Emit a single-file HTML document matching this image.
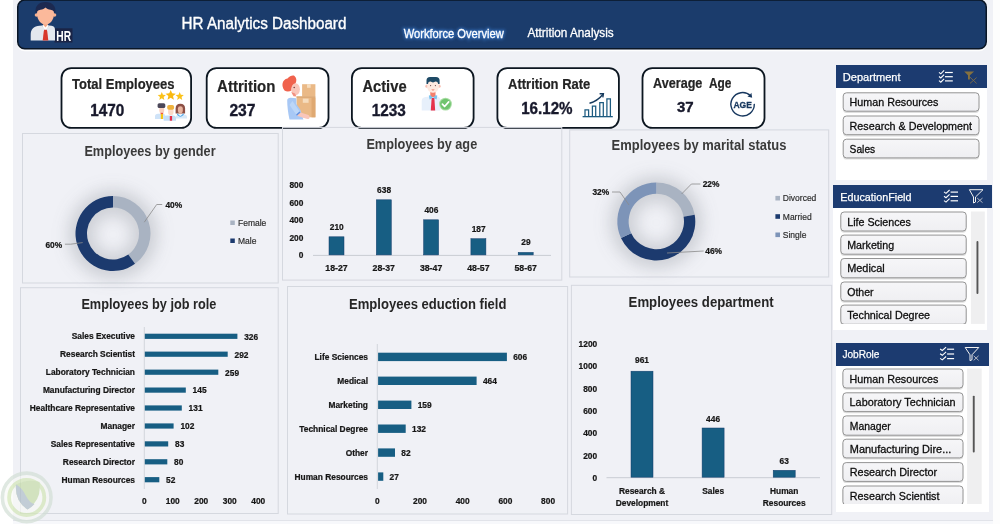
<!DOCTYPE html>
<html>
<head>
<meta charset="utf-8">
<title>HR Analytics Dashboard</title>
<style>
*{box-sizing:border-box;margin:0;padding:0}
html,body{width:1000px;height:524px;overflow:hidden;background:#f0f1f6;font-family:"Liberation Sans",sans-serif;color:#1a1a1a}
#root{position:relative;width:1000px;height:524px;overflow:hidden;background:#f0f1f6}
.abs{position:absolute}
.leftstrip{left:0;top:0;width:13px;height:524px;background:#fff}
.rightstrip{left:992.5px;top:0;width:8px;height:524px;background:#fdfdfd}
.slh{background:#1c3b70;color:#fff;font-size:11px;padding-left:7px;white-space:nowrap}
.slb{background:#fff}
svg{position:absolute;left:0;top:0;overflow:visible;will-change:transform}
.slh{will-change:transform}
svg text{font-family:"Liberation Sans",sans-serif}
</style>
</head>
<body>
<div id="root">
<div class="abs leftstrip"></div>
<div class="abs rightstrip"></div>
<div class="abs" style="left:13px;top:519.5px;width:980px;height:5px;background:#f7f8fb;border-top:1px solid #e1e3e9"></div>

<!-- HEADER -->

<!-- KPI CARDS -->


<!-- PANELS -->

<!-- SLICERS -->
<div class="abs slb" style="left:836px;top:87px;width:151px;height:93px"></div>
<div class="abs slh" style="left:836px;top:65px;width:151px;height:23px;line-height:23px"></div>

<div class="abs slb" style="left:833.3px;top:207px;width:153.7px;height:122.5px"></div>
<div class="abs slh" style="left:833px;top:185px;width:159px;height:23px;line-height:23px"></div>

<div class="abs slb" style="left:836px;top:365px;width:153px;height:147px"></div>
<div class="abs slh" style="left:836px;top:343px;width:153px;height:23px;line-height:23px"></div>

<svg width="1000" height="524" viewBox="0 0 1000 524">
<defs><filter id="sh" x="-50%" y="-50%" width="200%" height="200%"><feGaussianBlur stdDeviation="8"/></filter><filter id="glow" x="-20%" y="-60%" width="140%" height="220%"><feGaussianBlur stdDeviation="1.6"/></filter></defs>
<rect x="61.5" y="68.1" width="129.6" height="59.8" rx="9.8" fill="#fff" stroke="#0c1620" stroke-width="1.8"/>
<rect x="206.70000000000002" y="68.1" width="121.79999999999997" height="59.8" rx="9.8" fill="#fff" stroke="#0c1620" stroke-width="1.8"/>
<rect x="351.9" y="68.1" width="121.7" height="59.8" rx="9.8" fill="#fff" stroke="#0c1620" stroke-width="1.8"/>
<rect x="497.4" y="68.1" width="121.49999999999996" height="59.8" rx="9.8" fill="#fff" stroke="#0c1620" stroke-width="1.8"/>
<rect x="642.5" y="68.1" width="121.99999999999996" height="59.8" rx="9.8" fill="#fff" stroke="#0c1620" stroke-width="1.8"/>
<rect x="22.5" y="133.5" width="255.7" height="149.5" fill="none" stroke="#d5d8df" stroke-width="1"/>
<rect x="282.5" y="127.4" width="279.29999999999995" height="152.70000000000002" fill="none" stroke="#d5d8df" stroke-width="1"/>
<rect x="569.7" y="129.9" width="259.0" height="147.1" fill="none" stroke="#d5d8df" stroke-width="1"/>
<rect x="20.5" y="287.7" width="257.7" height="225.8" fill="none" stroke="#d5d8df" stroke-width="1"/>
<rect x="287.5" y="286.5" width="280.1" height="227.5" fill="none" stroke="#d5d8df" stroke-width="1"/>
<rect x="571.4" y="285.3" width="260.30000000000007" height="229.2" fill="none" stroke="#d5d8df" stroke-width="1"/>
<rect x="17.75" y="1.7" width="968.5" height="48.7" rx="7" fill="none" stroke="#ffffff" stroke-width="1.6" opacity="0.9"/>
<rect x="17.75" y="0.05" width="968.5" height="48.7" rx="7" fill="#1b3c6c" stroke="#0a1626" stroke-width="1.5"/>
<text x="181.6" y="29" font-size="16" text-anchor="start" font-weight="normal" fill="#ffffff" textLength="164.8" lengthAdjust="spacingAndGlyphs" stroke="#fff" stroke-width="0.35">HR Analytics Dashboard</text>
<text x="403.75" y="38" font-size="12.4" text-anchor="start" font-weight="normal" fill="#3f86e0" textLength="100" lengthAdjust="spacingAndGlyphs" filter="url(#glow)" stroke="#3f86e0" stroke-width="2.5" opacity="0.62">Workforce Overview</text>
<text x="403.75" y="38" font-size="12.4" text-anchor="start" font-weight="normal" fill="#ffffff" textLength="100" lengthAdjust="spacingAndGlyphs" stroke="#fff" stroke-width="0.3">Workforce Overview</text>
<text x="527.5" y="37" font-size="12.6" text-anchor="start" font-weight="normal" fill="#ffffff" textLength="86.25" lengthAdjust="spacingAndGlyphs" stroke="#fff" stroke-width="0.3">Attrition Analysis</text>
<g>
<rect x="54.5" y="28.3" width="18" height="14.2" fill="#1a2446"/>
<circle cx="36.5" cy="15" r="1.8" fill="#f7b08f"/><circle cx="54.5" cy="15" r="1.8" fill="#f7b08f"/>
<rect x="43.2" y="21" width="4.6" height="9.5" fill="#f5a885"/>
<path d="M37,13.5 C37,20 41,24.6 45.5,24.6 C50,24.6 54,20 54,13.5 C54,9 50,6.8 45.5,6.8 C41,6.8 37,9 37,13.5 Z" fill="#fbb99b"/>
<path d="M35.7,13.6 C34.4,6.4 38.5,1.9 45.5,1.9 C52.5,1.9 56.6,6.4 55.3,13.6 C54.7,11.4 53,10.1 50.5,9.7 C48.5,9.3 46.5,8.7 45.5,7.4 C44.5,8.7 42.5,9.3 40.5,9.7 C38,10.1 36.3,11.4 35.7,13.6 Z" fill="#1c2950"/>
<path d="M30.7,40.4 V35 C30.7,29 34,26.3 39.5,25.8 L42,25.6 L45.5,29.5 L49,25.6 L51.5,25.8 C54,26 55,27.5 55,30 V40.4 Z" fill="#e4e8ee"/>
<path d="M42,25.6 L45.5,30.5 L49,25.6 L47.5,25 L45.5,27.5 L43.5,25 Z" fill="#ffffff"/>
<path d="M44.2,29.8 H46.8 L47.3,31.8 L48.3,40.4 H42.7 L43.7,31.8 Z" fill="#d8382c"/>
<text x="56.3" y="41" font-size="14.6" text-anchor="start" font-weight="bold" fill="#ffffff" textLength="14.8" lengthAdjust="spacingAndGlyphs" >HR</text>
</g>
<text x="72.1" y="88.6" font-size="13.8" text-anchor="start" font-weight="bold" fill="#242424" textLength="102.5" lengthAdjust="spacingAndGlyphs" stroke="#242424" stroke-width="0.2">Total Employees</text>
<text x="90.2" y="116.3" font-size="15.8" text-anchor="start" font-weight="bold" fill="#17182b" textLength="34.1" lengthAdjust="spacingAndGlyphs" stroke="#17182b" stroke-width="0.35">1470</text>
<text x="217.1" y="91.5" font-size="16.2" text-anchor="start" font-weight="bold" fill="#242424" textLength="58.3" lengthAdjust="spacingAndGlyphs" stroke="#242424" stroke-width="0.2">Attrition</text>
<text x="229.4" y="115.8" font-size="15.8" text-anchor="start" font-weight="bold" fill="#17182b" textLength="26.1" lengthAdjust="spacingAndGlyphs" stroke="#17182b" stroke-width="0.35">237</text>
<text x="362.4" y="91.5" font-size="16.2" text-anchor="start" font-weight="bold" fill="#242424" textLength="44.2" lengthAdjust="spacingAndGlyphs" stroke="#242424" stroke-width="0.2">Active</text>
<text x="371.8" y="115.8" font-size="15.8" text-anchor="start" font-weight="bold" fill="#17182b" textLength="34.1" lengthAdjust="spacingAndGlyphs" stroke="#17182b" stroke-width="0.35">1233</text>
<text x="508.1" y="88.6" font-size="13.8" text-anchor="start" font-weight="bold" fill="#242424" textLength="82.2" lengthAdjust="spacingAndGlyphs" stroke="#242424" stroke-width="0.2">Attrition Rate</text>
<text x="521.2" y="113.6" font-size="15.6" text-anchor="start" font-weight="bold" fill="#17182b" textLength="51.4" lengthAdjust="spacingAndGlyphs" stroke="#17182b" stroke-width="0.35">16.12%</text>
<text x="653.1" y="88.3" font-size="13.8" text-anchor="start" font-weight="bold" fill="#242424" textLength="49.3" lengthAdjust="spacingAndGlyphs" stroke="#242424" stroke-width="0.2">Average</text>
<text x="709" y="88.3" font-size="13.8" text-anchor="start" font-weight="bold" fill="#242424" textLength="22.4" lengthAdjust="spacingAndGlyphs" stroke="#242424" stroke-width="0.2">Age</text>
<text x="677" y="111.8" font-size="15.4" text-anchor="start" font-weight="bold" fill="#17182b" textLength="16.7" lengthAdjust="spacingAndGlyphs" stroke="#17182b" stroke-width="0.35">37</text>
<g>
<polygon points="161.80,92.10 162.94,94.83 165.89,95.07 163.64,97.00 164.33,99.88 161.80,98.34 159.27,99.88 159.96,97.00 157.71,95.07 160.66,94.83" fill="#fbc219"/>
<polygon points="179.70,92.10 180.84,94.83 183.79,95.07 181.54,97.00 182.23,99.88 179.70,98.34 177.17,99.88 177.86,97.00 175.61,95.07 178.56,94.83" fill="#fbc219"/>
<polygon points="170.70,89.90 172.13,93.33 175.84,93.63 173.01,96.05 173.87,99.67 170.70,97.73 167.53,99.67 168.39,96.05 165.56,93.63 169.27,93.33" fill="#f9b90f"/>
<path d="M155,119 V116.5 Q155,114 158,113.8 H163 Q165.6,114 165.6,116.5 V119 Z" fill="#cfe3f8"/>
<rect x="159.3" y="106.5" width="4.9" height="6.9" rx="2.3" fill="#f9d0bf"/>
<rect x="157.6" y="103.2" width="7.7" height="4.9" rx="1.6" fill="#4b4759"/>
<rect x="160.6" y="112.8" width="2.6" height="1.4" fill="#f2593c"/>
<rect x="160.8" y="114" width="2.2" height="5" fill="#f6c415"/>
<path d="M176,118.6 V117 Q176,114.8 179,114.6 H184 Q187,114.8 187,117 V118.6 Z" fill="#d9eaf9"/>
<path d="M175.6,113.6 V108.5 Q175.6,103.8 180.3,103.8 Q185.1,103.8 185.1,108.5 V113.6 Z" fill="#8c4f44"/>
<rect x="177.9" y="106.2" width="4.9" height="7.2" rx="2.4" fill="#e9b5a0"/>
<path d="M177.2,113.2 L180.4,116.4 L183.6,113.2 L183.6,115 L180.4,117 L177.2,115 Z" fill="#3fa0e8"/>
<path d="M163.7,120.7 V118 Q163.7,115.6 167,115.4 H173 Q176,115.6 176,118 V120.7 Z" fill="#c5dff6"/>
<rect x="168.1" y="108" width="5.4" height="7" rx="2.6" fill="#fbd9c9"/>
<rect x="167.2" y="104.9" width="6.9" height="4.9" rx="1.8" fill="#efb23e"/>
<rect x="169.8" y="116" width="2.3" height="4.7" fill="#e5304b"/>
</g>
<g>
<rect x="302.1" y="84.2" width="13.3" height="12.3" fill="#eab986"/>
<rect x="307" y="84.2" width="3.7" height="3.6" fill="#f6dcbd"/>
<rect x="296.5" y="97.5" width="18.9" height="19.8" fill="#eab986"/>
<rect x="296.5" y="96.3" width="18.9" height="1.5" fill="#d9a066"/>
<rect x="311.5" y="97.8" width="3.9" height="19.5" fill="#dfa972"/>
<rect x="302.8" y="98.6" width="5.8" height="4.2" fill="#f6dcbd"/>
<path d="M284.5,90.5 C281,86 282,79.5 287.5,78.5 C289.5,76 293,75 294.5,76 C296.5,77.5 297,80.5 295.5,83.5 C293,84.5 291.5,87 291.5,90.5 C289.5,91.8 286.5,92 284.5,90.5 Z" fill="#f0624d"/>
<ellipse cx="295.6" cy="89.2" rx="4.3" ry="6" fill="#f9c6ba"/>
<path d="M291.2,92 L293.5,96.2 L296.5,96.5 L295,93.5 Z" fill="#f28f7f"/>
<circle cx="294.2" cy="87.6" r="0.75" fill="#6b3a3a"/>
<path d="M287.2,100.5 C287.2,98.5 289,97.6 291,97.8 L296.3,98.2 V104 L300.5,110 L303.4,119.4 H289.5 C288,113 287.2,106 287.2,100.5 Z" fill="#a8c8f5"/>
<path d="M292.5,101 L299.6,111.6 L296.2,114.6 L289.5,105 Z" fill="#bcd6f8"/>
<path d="M296.2,114.6 L299.6,111.6 L300.6,112.9 L297,116 Z" fill="#5f8fe0"/>
<path d="M297,115.8 L300.6,112.6 L308.5,115 Q310.3,116.5 309.3,118.4 Q308,119.4 305.5,118.6 Z" fill="#f9c6ba"/>
</g>
<g>
<path d="M421.7,110.5 V101 Q421.7,97.4 425.5,97 L429.5,96.5 H436.5 L438.5,97 Q440.3,97.6 440.3,100 V110.5 Z" fill="#e7f0fb"/>
<rect x="430.3" y="91" width="5.2" height="6" fill="#f3806d"/>
<path d="M428.8,95.6 L430.4,95.2 L433,98 L435.5,95.2 L437.3,95.6 L436.6,99.4 L433,98 L429.6,99.4 Z" fill="#7cc4ee"/>
<path d="M431.9,98 H434.2 L434.5,99.8 L435.2,110.5 H430.8 L431.5,99.8 Z" fill="#e5334b"/>
<circle cx="426.9" cy="86.2" r="1.6" fill="#f9c1b4"/><circle cx="439.1" cy="86.2" r="1.6" fill="#f9c1b4"/>
<rect x="427.2" y="79.5" width="11.6" height="13.2" rx="5.4" fill="#fdeae1"/>
<path d="M426.5,84 V80.5 Q426.5,77 430,77 H436 Q439.6,77 439.6,80.5 V84 L438.2,84 Q437.8,81.4 435.5,81.6 L433,82.6 L430.5,81.6 Q428.2,81.4 427.9,84 Z" fill="#1e4a66"/>
<path d="M431.3,89.6 Q433,91.3 434.7,89.6 Z" fill="#ef6a57"/>
<circle cx="430.6" cy="85.6" r="0.6" fill="#6b4a4a"/><circle cx="435.4" cy="85.6" r="0.6" fill="#6b4a4a"/>
<circle cx="445.5" cy="104.1" r="6.4" fill="#a9dda4"/>
<circle cx="445.5" cy="104.1" r="5.4" fill="#6fc46e"/>
<polyline points="442.4,104.2 444.6,106.5 448.7,101.9" fill="none" stroke="#ffffff" stroke-width="1.7" stroke-linecap="round" stroke-linejoin="round"/>
</g>
<g fill="none" stroke="#1d5b80" stroke-width="1.25">
<line x1="582.6" y1="116.65" x2="612.8" y2="116.65" stroke-width="1.3"/>
<path d="M585.0,116.6 V109.9 H588.6 V116.6"/>
<path d="M592.4,116.6 V106.2 H595.7 V116.6"/>
<path d="M599.8,116.6 V102.7 H603.3 V116.6"/>
<path d="M606.9,116.6 V98.8 H610.4 V116.6"/>
<path d="M589.5,103.2 Q597.5,101.2 603.2,94" stroke="#173b5e" stroke-width="1.4"/>
<path d="M599.6,93.7 L603.4,93.7 L602.8,97.4" stroke="#173b5e" stroke-width="1.4"/>
</g>
<path d="M754.29,103.89 A11.7,11.7 0 1 1 750.73,95.88" fill="none" stroke="#17375e" stroke-width="1.4"/>
<path d="M747.36,96.58 L752.16,97.68 L751.36,92.78 Q750.36,95.18 747.36,96.58 Z" fill="#17375e"/>
<text x="733.4" y="107.7" font-size="9.4" text-anchor="start" font-weight="bold" fill="#17375e" textLength="18.5" lengthAdjust="spacingAndGlyphs" stroke="#17375e" stroke-width="0.3">AGE</text>
<text x="842.75" y="80.7" font-size="11.3" text-anchor="start" font-weight="normal" fill="#fff" textLength="57.8" lengthAdjust="spacingAndGlyphs" stroke="#fff" stroke-width="0.25">Department</text>
<text x="840.3" y="200.6" font-size="11.3" text-anchor="start" font-weight="normal" fill="#fff" textLength="71.2" lengthAdjust="spacingAndGlyphs" stroke="#fff" stroke-width="0.25">EducationField</text>
<text x="842.4" y="357.9" font-size="11.3" text-anchor="start" font-weight="normal" fill="#fff" textLength="37.1" lengthAdjust="spacingAndGlyphs" stroke="#fff" stroke-width="0.25">JobRole</text>
<g fill="none" stroke="#fff" stroke-width="1.1"><polyline points="939.0,72.3 940.8,73.8 944.1,70.4"/><line x1="945" y1="72.5" x2="952.8" y2="72.5" stroke-width="1.2"/><polyline points="939.0,76.5 940.8,78.0 944.1,74.6"/><line x1="945" y1="76.7" x2="952.8" y2="76.7" stroke-width="1.2"/><polyline points="939.0,80.7 940.8,82.2 944.1,78.8"/><line x1="945" y1="80.9" x2="952.8" y2="80.9" stroke-width="1.2"/></g>
<g fill="none" stroke="#fff" stroke-width="1.1"><polyline points="944.0,191.9 946.0,193.4 949.6,190.0"/><line x1="950.6" y1="192.1" x2="958" y2="192.1" stroke-width="1.2"/><polyline points="944.0,196.2 946.0,197.7 949.6,194.3"/><line x1="950.6" y1="196.4" x2="958" y2="196.4" stroke-width="1.2"/><polyline points="944.0,200.6 946.0,202.1 949.6,198.7"/><line x1="950.6" y1="200.8" x2="958" y2="200.8" stroke-width="1.2"/></g>
<g fill="none" stroke="#fff" stroke-width="1.1"><polyline points="940.1,349.0 942.3,350.5 946.1,347.1"/><line x1="947.1" y1="349.2" x2="954.1" y2="349.2" stroke-width="1.2"/><polyline points="940.1,353.8 942.3,355.3 946.1,351.9"/><line x1="947.1" y1="354" x2="954.1" y2="354" stroke-width="1.2"/><polyline points="940.1,358.4 942.3,359.9 946.1,356.5"/><line x1="947.1" y1="358.6" x2="954.1" y2="358.6" stroke-width="1.2"/></g>
<path d="M964.2,71.4 H974.1 L969.9,75.3 V79.4 L968,79.4 V75.3 Z" fill="#85713f"/>
<path d="M970,77.2 L976.6,83.4 M976.6,77.6 L970,83.4" stroke="#7d6c48" stroke-width="0.9" fill="none"/>
<path d="M969.4,189.7 H983 L975.5,197 V202 L973.5,203 V197 Z" fill="none" stroke="#f2f2f2" stroke-width="1" stroke-linejoin="round"/><path d="M977.2,198.1 L982.5,202.6 M982.5,198.1 L977.2,202.6" stroke="#b9bcc6" stroke-width="0.95" fill="none"/>
<path d="M965.2,347.5 H978.8 L972.0,354.8 V359.7 L970.0,360.7 V354.8 Z" fill="none" stroke="#f2f2f2" stroke-width="1" stroke-linejoin="round"/><path d="M973.7,355.8 L978.6,360.4 M978.6,355.8 L973.7,360.4" stroke="#b9bcc6" stroke-width="0.95" fill="none"/>
<defs><linearGradient id="ig" x1="0" y1="0" x2="0" y2="1"><stop offset="0" stop-color="#f6f6f8"/><stop offset="1" stop-color="#efeff2"/></linearGradient><clipPath id="c2"><rect x="833" y="208" width="160" height="115.9"/></clipPath><clipPath id="c3"><rect x="835" y="366" width="160" height="138"/></clipPath></defs>
<rect x="843.0" y="93.5" width="136.19999999999996" height="19.400000000000006" rx="3.6" fill="#000" opacity="0.13"/><rect x="843.2" y="92.8" width="135.79999999999995" height="18.400000000000006" rx="3.3" fill="url(#ig)" stroke="#8f8f8f" stroke-width="0.95"/><text x="849.6" y="105.9" font-size="11" text-anchor="start" font-weight="normal" fill="#0c0c0c" textLength="88.8" lengthAdjust="spacingAndGlyphs" stroke="#0c0c0c" stroke-width="0.28">Human Resources</text>
<rect x="843.0" y="116.7" width="136.19999999999996" height="19.69999999999999" rx="3.6" fill="#000" opacity="0.13"/><rect x="843.2" y="116.0" width="135.79999999999995" height="18.69999999999999" rx="3.3" fill="url(#ig)" stroke="#8f8f8f" stroke-width="0.95"/><text x="849.6" y="129.6" font-size="11" text-anchor="start" font-weight="normal" fill="#0c0c0c" textLength="122.4" lengthAdjust="spacingAndGlyphs" stroke="#0c0c0c" stroke-width="0.28">Research &amp; Development</text>
<rect x="843.0" y="139.89999999999998" width="136.19999999999996" height="19.700000000000017" rx="3.6" fill="#000" opacity="0.13"/><rect x="843.2" y="139.2" width="135.79999999999995" height="18.700000000000017" rx="3.3" fill="url(#ig)" stroke="#8f8f8f" stroke-width="0.95"/><text x="849.6" y="152.8" font-size="11" text-anchor="start" font-weight="normal" fill="#0c0c0c" textLength="25.6" lengthAdjust="spacingAndGlyphs" stroke="#0c0c0c" stroke-width="0.28">Sales</text>
<rect x="970.9" y="211.5" width="13.9" height="112.4" fill="#efeff0"/>
<rect x="976.5" y="241" width="1.9" height="53" rx="0.9" fill="#555"/>
<g clip-path="url(#c2)">
<rect x="840.5999999999999" y="212.7" width="125.8000000000001" height="20.0" rx="3.6" fill="#000" opacity="0.13"/><rect x="840.8" y="212.0" width="125.40000000000009" height="19.0" rx="3.3" fill="url(#ig)" stroke="#8f8f8f" stroke-width="0.95"/><text x="847.2" y="225.9" font-size="11" text-anchor="start" font-weight="normal" fill="#0c0c0c" textLength="63.7" lengthAdjust="spacingAndGlyphs" stroke="#0c0c0c" stroke-width="0.28">Life Sciences</text>
<rect x="840.5999999999999" y="235.79999999999998" width="125.8000000000001" height="20.099999999999994" rx="3.6" fill="#000" opacity="0.13"/><rect x="840.8" y="235.1" width="125.40000000000009" height="19.099999999999994" rx="3.3" fill="url(#ig)" stroke="#8f8f8f" stroke-width="0.95"/><text x="847.2" y="248.9" font-size="11" text-anchor="start" font-weight="normal" fill="#0c0c0c" textLength="46.9" lengthAdjust="spacingAndGlyphs" stroke="#0c0c0c" stroke-width="0.28">Marketing</text>
<rect x="840.5999999999999" y="259.2" width="125.8000000000001" height="20.30000000000001" rx="3.6" fill="#000" opacity="0.13"/><rect x="840.8" y="258.5" width="125.40000000000009" height="19.30000000000001" rx="3.3" fill="url(#ig)" stroke="#8f8f8f" stroke-width="0.95"/><text x="847.2" y="272.1" font-size="11" text-anchor="start" font-weight="normal" fill="#0c0c0c" textLength="37.6" lengthAdjust="spacingAndGlyphs" stroke="#0c0c0c" stroke-width="0.28">Medical</text>
<rect x="840.5999999999999" y="282.7" width="125.8000000000001" height="20.0" rx="3.6" fill="#000" opacity="0.13"/><rect x="840.8" y="282.0" width="125.40000000000009" height="19.0" rx="3.3" fill="url(#ig)" stroke="#8f8f8f" stroke-width="0.95"/><text x="847.2" y="295.6" font-size="11" text-anchor="start" font-weight="normal" fill="#0c0c0c" textLength="26.4" lengthAdjust="spacingAndGlyphs" stroke="#0c0c0c" stroke-width="0.28">Other</text>
<rect x="840.5999999999999" y="305.8" width="125.8000000000001" height="20.19999999999999" rx="3.6" fill="#000" opacity="0.13"/><rect x="840.8" y="305.1" width="125.40000000000009" height="19.19999999999999" rx="3.3" fill="url(#ig)" stroke="#8f8f8f" stroke-width="0.95"/><text x="847.2" y="318.8" font-size="11" text-anchor="start" font-weight="normal" fill="#0c0c0c" textLength="82.9" lengthAdjust="spacingAndGlyphs" stroke="#0c0c0c" stroke-width="0.28">Technical Degree</text>
</g>
<rect x="967.1" y="368.5" width="14.6" height="135.5" fill="#efeff0"/>
<rect x="972.8" y="395.7" width="1.9" height="56.7" rx="0.9" fill="#555"/>
<g clip-path="url(#c3)">
<rect x="842.6999999999999" y="369.7" width="120.50000000000003" height="20.0" rx="3.6" fill="#000" opacity="0.13"/><rect x="842.9" y="369.0" width="120.10000000000002" height="19.0" rx="3.3" fill="url(#ig)" stroke="#8f8f8f" stroke-width="0.95"/><text x="849.6" y="382.9" font-size="11" text-anchor="start" font-weight="normal" fill="#0c0c0c" textLength="88.8" lengthAdjust="spacingAndGlyphs" stroke="#0c0c0c" stroke-width="0.28">Human Resources</text>
<rect x="842.6999999999999" y="393.5" width="120.50000000000003" height="19.80000000000001" rx="3.6" fill="#000" opacity="0.13"/><rect x="842.9" y="392.8" width="120.10000000000002" height="18.80000000000001" rx="3.3" fill="url(#ig)" stroke="#8f8f8f" stroke-width="0.95"/><text x="849.6" y="405.9" font-size="11" text-anchor="start" font-weight="normal" fill="#0c0c0c" textLength="105.9" lengthAdjust="spacingAndGlyphs" stroke="#0c0c0c" stroke-width="0.28">Laboratory Technician</text>
<rect x="842.6999999999999" y="416.59999999999997" width="120.50000000000003" height="20.30000000000001" rx="3.6" fill="#000" opacity="0.13"/><rect x="842.9" y="415.9" width="120.10000000000002" height="19.30000000000001" rx="3.3" fill="url(#ig)" stroke="#8f8f8f" stroke-width="0.95"/><text x="849.8" y="429.6" font-size="11" text-anchor="start" font-weight="normal" fill="#0c0c0c" textLength="41" lengthAdjust="spacingAndGlyphs" stroke="#0c0c0c" stroke-width="0.28">Manager</text>
<rect x="842.6999999999999" y="439.9" width="120.50000000000003" height="19.69999999999999" rx="3.6" fill="#000" opacity="0.13"/><rect x="842.9" y="439.2" width="120.10000000000002" height="18.69999999999999" rx="3.3" fill="url(#ig)" stroke="#8f8f8f" stroke-width="0.95"/><text x="849.8" y="452.9" font-size="11" text-anchor="start" font-weight="normal" fill="#0c0c0c" textLength="101.5" lengthAdjust="spacingAndGlyphs" stroke="#0c0c0c" stroke-width="0.28">Manufacturing Dire...</text>
<rect x="842.6999999999999" y="463.3" width="120.50000000000003" height="19.799999999999955" rx="3.6" fill="#000" opacity="0.13"/><rect x="842.9" y="462.6" width="120.10000000000002" height="18.799999999999955" rx="3.3" fill="url(#ig)" stroke="#8f8f8f" stroke-width="0.95"/><text x="849.8" y="476.4" font-size="11" text-anchor="start" font-weight="normal" fill="#0c0c0c" textLength="87.3" lengthAdjust="spacingAndGlyphs" stroke="#0c0c0c" stroke-width="0.28">Research Director</text>
<rect x="842.6999999999999" y="486.7" width="120.50000000000003" height="20.0" rx="3.6" fill="#000" opacity="0.13"/><rect x="842.9" y="486.0" width="120.10000000000002" height="19.0" rx="3.3" fill="url(#ig)" stroke="#8f8f8f" stroke-width="0.95"/><text x="849.8" y="499.7" font-size="11" text-anchor="start" font-weight="normal" fill="#0c0c0c" textLength="89.7" lengthAdjust="spacingAndGlyphs" stroke="#0c0c0c" stroke-width="0.28">Research Scientist</text>
</g>
<text x="84.4" y="155.6" font-size="14.5" text-anchor="start" font-weight="bold" fill="#3a3a3a" textLength="131.2" lengthAdjust="spacingAndGlyphs" >Employees by gender</text>
<text x="366.4" y="148.6" font-size="14.5" text-anchor="start" font-weight="bold" fill="#3a3a3a" textLength="110.8" lengthAdjust="spacingAndGlyphs" >Employees by age</text>
<text x="611.6" y="150" font-size="14.5" text-anchor="start" font-weight="bold" fill="#3a3a3a" textLength="174.8" lengthAdjust="spacingAndGlyphs" >Employees by marital status</text>
<text x="81.4" y="308.6" font-size="14.5" text-anchor="start" font-weight="bold" fill="#262626" textLength="135" lengthAdjust="spacingAndGlyphs" >Employees by job role</text>
<text x="349" y="308.6" font-size="14.5" text-anchor="start" font-weight="bold" fill="#262626" textLength="157.4" lengthAdjust="spacingAndGlyphs" >Employees eduction field</text>
<text x="628.6" y="307" font-size="14.5" text-anchor="start" font-weight="bold" fill="#262626" textLength="145" lengthAdjust="spacingAndGlyphs" >Employees department</text>
<circle cx="113" cy="234.5" r="31.75" fill="none" stroke="#8a8f99" stroke-opacity="0.34" stroke-width="25.5" filter="url(#sh)"/>
<path d="M113.00,196.00 A37.5,37.5 0 0 1 135.04,263.84 L128.28,254.53 A26,26 0 0 0 113.00,207.50 Z" fill="#a9b3c2"/>
<path d="M135.04,263.84 A37.5,37.5 0 1 1 113.00,196.00 L113.00,207.50 A26,26 0 1 0 128.28,254.53 Z" fill="#1c3a6e"/>
<polyline points="162.2,204.5 156.7,204.5 144.3,222.2" fill="none" stroke="#8a8a8a" stroke-width="0.8"/>
<polyline points="64.9,244.2 70.7,244.2 82.7,242.6" fill="none" stroke="#8a8a8a" stroke-width="0.8"/>
<text x="165.4" y="208.3" font-size="8.5" text-anchor="start" font-weight="bold" fill="#161616" textLength="16.76" lengthAdjust="spacingAndGlyphs" stroke="#161616" stroke-width="0.22">40%</text>
<text x="45.4" y="248" font-size="8.5" text-anchor="start" font-weight="bold" fill="#161616" textLength="16.76" lengthAdjust="spacingAndGlyphs" stroke="#161616" stroke-width="0.22">60%</text>
<rect x="230.3" y="220.5" width="4.5" height="4.5" fill="#a9b3c2"/>
<text x="238" y="225.8" font-size="8.5" text-anchor="start" font-weight="normal" fill="#2c2c2c" textLength="28.34" lengthAdjust="spacingAndGlyphs" stroke="#2c2c2c" stroke-width="0.18">Female</text>
<rect x="230.3" y="238.5" width="4.5" height="4.5" fill="#1c3a6e"/>
<text x="238" y="243.8" font-size="8.5" text-anchor="start" font-weight="normal" fill="#2c2c2c" textLength="18.42" lengthAdjust="spacingAndGlyphs" stroke="#2c2c2c" stroke-width="0.18">Male</text>
<text x="303.4" y="188.3" font-size="8.5" text-anchor="end" font-weight="bold" fill="#161616" textLength="13.97" lengthAdjust="spacingAndGlyphs" stroke="#161616" stroke-width="0.22">800</text>
<text x="303.4" y="205.75" font-size="8.5" text-anchor="end" font-weight="bold" fill="#161616" textLength="13.97" lengthAdjust="spacingAndGlyphs" stroke="#161616" stroke-width="0.22">600</text>
<text x="303.4" y="223.20000000000002" font-size="8.5" text-anchor="end" font-weight="bold" fill="#161616" textLength="13.97" lengthAdjust="spacingAndGlyphs" stroke="#161616" stroke-width="0.22">400</text>
<text x="303.4" y="240.65" font-size="8.5" text-anchor="end" font-weight="bold" fill="#161616" textLength="13.97" lengthAdjust="spacingAndGlyphs" stroke="#161616" stroke-width="0.22">200</text>
<text x="303.4" y="258.1" font-size="8.5" text-anchor="end" font-weight="bold" fill="#161616" textLength="4.66" lengthAdjust="spacingAndGlyphs" stroke="#161616" stroke-width="0.22">0</text>
<line x1="313" y1="255.4" x2="551" y2="255.4" stroke="#c9ccd3" stroke-width="1"/>
<rect x="329.0" y="236.8" width="15" height="18.1" fill="#175e83" stroke="#103a6a" stroke-width="0.5"/>
<text x="336.8" y="229.6" font-size="8.5" text-anchor="middle" font-weight="bold" fill="#161616" textLength="13.97" lengthAdjust="spacingAndGlyphs" stroke="#161616" stroke-width="0.22">210</text>
<text x="336.5" y="271" font-size="8.5" text-anchor="middle" font-weight="bold" fill="#161616" textLength="22.39" lengthAdjust="spacingAndGlyphs" stroke="#161616" stroke-width="0.22">18-27</text>
<rect x="376.3" y="199.8" width="15" height="55.1" fill="#175e83" stroke="#103a6a" stroke-width="0.5"/>
<text x="384.1" y="192.6" font-size="8.5" text-anchor="middle" font-weight="bold" fill="#161616" textLength="13.97" lengthAdjust="spacingAndGlyphs" stroke="#161616" stroke-width="0.22">638</text>
<text x="383.8" y="271" font-size="8.5" text-anchor="middle" font-weight="bold" fill="#161616" textLength="22.39" lengthAdjust="spacingAndGlyphs" stroke="#161616" stroke-width="0.22">28-37</text>
<rect x="423.6" y="219.8" width="15" height="35.1" fill="#175e83" stroke="#103a6a" stroke-width="0.5"/>
<text x="431.4" y="212.6" font-size="8.5" text-anchor="middle" font-weight="bold" fill="#161616" textLength="13.97" lengthAdjust="spacingAndGlyphs" stroke="#161616" stroke-width="0.22">406</text>
<text x="431.1" y="271" font-size="8.5" text-anchor="middle" font-weight="bold" fill="#161616" textLength="22.39" lengthAdjust="spacingAndGlyphs" stroke="#161616" stroke-width="0.22">38-47</text>
<rect x="470.9" y="238.7" width="15" height="16.2" fill="#175e83" stroke="#103a6a" stroke-width="0.5"/>
<text x="478.7" y="231.5" font-size="8.5" text-anchor="middle" font-weight="bold" fill="#161616" textLength="13.97" lengthAdjust="spacingAndGlyphs" stroke="#161616" stroke-width="0.22">187</text>
<text x="478.4" y="271" font-size="8.5" text-anchor="middle" font-weight="bold" fill="#161616" textLength="22.39" lengthAdjust="spacingAndGlyphs" stroke="#161616" stroke-width="0.22">48-57</text>
<rect x="518.2" y="252.4" width="15" height="2.5" fill="#175e83" stroke="#103a6a" stroke-width="0.5"/>
<text x="526.0" y="245.2" font-size="8.5" text-anchor="middle" font-weight="bold" fill="#161616" textLength="9.31" lengthAdjust="spacingAndGlyphs" stroke="#161616" stroke-width="0.22">29</text>
<text x="525.7" y="271" font-size="8.5" text-anchor="middle" font-weight="bold" fill="#161616" textLength="22.39" lengthAdjust="spacingAndGlyphs" stroke="#161616" stroke-width="0.22">58-67</text>
<circle cx="656.3" cy="222.5" r="33.35" fill="none" stroke="#8a8f99" stroke-opacity="0.34" stroke-width="25.3" filter="url(#sh)"/>
<path d="M656.30,182.50 A39,39 0 0 1 694.71,214.73 L683.58,216.69 A27.7,27.7 0 0 0 656.30,193.80 Z" fill="#a9b3c2"/>
<path d="M694.71,214.73 A39,39 0 0 1 620.95,237.98 L631.20,233.21 A27.7,27.7 0 0 0 683.58,216.69 Z" fill="#1c3a6e"/>
<path d="M620.95,237.98 A39,39 0 0 1 656.30,182.50 L656.30,193.80 A27.7,27.7 0 0 0 631.20,233.21 Z" fill="#7d94b8"/>
<polyline points="700.4,184 691.4,184 681.6,194" fill="none" stroke="#8a8a8a" stroke-width="0.8"/>
<polyline points="612,192 620,192 629,205" fill="none" stroke="#8a8a8a" stroke-width="0.8"/>
<polyline points="703.7,251 667,253" fill="none" stroke="#8a8a8a" stroke-width="0.8"/>
<text x="702.7" y="187" font-size="8.5" text-anchor="start" font-weight="bold" fill="#161616" textLength="16.76" lengthAdjust="spacingAndGlyphs" stroke="#161616" stroke-width="0.22">22%</text>
<text x="592.4" y="195.3" font-size="8.5" text-anchor="start" font-weight="bold" fill="#161616" textLength="16.76" lengthAdjust="spacingAndGlyphs" stroke="#161616" stroke-width="0.22">32%</text>
<text x="705.3" y="254" font-size="8.5" text-anchor="start" font-weight="bold" fill="#161616" textLength="16.76" lengthAdjust="spacingAndGlyphs" stroke="#161616" stroke-width="0.22">46%</text>
<rect x="775.4" y="195.9" width="4.6" height="4.6" fill="#a9b3c2"/>
<text x="782.8" y="201.2" font-size="8.5" text-anchor="start" font-weight="normal" fill="#2c2c2c" textLength="33.54" lengthAdjust="spacingAndGlyphs" stroke="#2c2c2c" stroke-width="0.18">Divorced</text>
<rect x="775.4" y="214.2" width="4.6" height="4.6" fill="#1c3a6e"/>
<text x="782.8" y="219.5" font-size="8.5" text-anchor="start" font-weight="normal" fill="#2c2c2c" textLength="28.81" lengthAdjust="spacingAndGlyphs" stroke="#2c2c2c" stroke-width="0.18">Married</text>
<rect x="775.4" y="232.5" width="4.6" height="4.6" fill="#7d94b8"/>
<text x="782.8" y="237.8" font-size="8.5" text-anchor="start" font-weight="normal" fill="#2c2c2c" textLength="23.63" lengthAdjust="spacingAndGlyphs" stroke="#2c2c2c" stroke-width="0.18">Single</text>
<line x1="144.3" y1="327" x2="144.3" y2="489" stroke="#d3d6dc" stroke-width="1"/>
<rect x="144.8" y="333.7" width="92.6" height="5.2" fill="#175e83"/>
<text x="135" y="339.3" font-size="8.5" text-anchor="end" font-weight="bold" fill="#161616" textLength="63.3" lengthAdjust="spacingAndGlyphs" stroke="#161616" stroke-width="0.22">Sales Executive</text>
<text x="244.2" y="339.6" font-size="8.5" text-anchor="start" font-weight="bold" fill="#161616" textLength="13.97" lengthAdjust="spacingAndGlyphs" stroke="#161616" stroke-width="0.22">326</text>
<rect x="144.8" y="351.6" width="82.9" height="5.2" fill="#175e83"/>
<text x="135" y="357.2" font-size="8.5" text-anchor="end" font-weight="bold" fill="#161616" textLength="74.92" lengthAdjust="spacingAndGlyphs" stroke="#161616" stroke-width="0.22">Research Scientist</text>
<text x="234.5" y="357.5" font-size="8.5" text-anchor="start" font-weight="bold" fill="#161616" textLength="13.97" lengthAdjust="spacingAndGlyphs" stroke="#161616" stroke-width="0.22">292</text>
<rect x="144.8" y="369.6" width="73.5" height="5.2" fill="#175e83"/>
<text x="135" y="375.2" font-size="8.5" text-anchor="end" font-weight="bold" fill="#161616" textLength="89.16" lengthAdjust="spacingAndGlyphs" stroke="#161616" stroke-width="0.22">Laboratory Technician</text>
<text x="225.1" y="375.5" font-size="8.5" text-anchor="start" font-weight="bold" fill="#161616" textLength="13.97" lengthAdjust="spacingAndGlyphs" stroke="#161616" stroke-width="0.22">259</text>
<rect x="144.8" y="387.5" width="41.0" height="5.2" fill="#175e83"/>
<text x="135" y="393.1" font-size="8.5" text-anchor="end" font-weight="bold" fill="#161616" textLength="92.1" lengthAdjust="spacingAndGlyphs" stroke="#161616" stroke-width="0.22">Manufacturing Director</text>
<text x="192.6" y="393.4" font-size="8.5" text-anchor="start" font-weight="bold" fill="#161616" textLength="13.97" lengthAdjust="spacingAndGlyphs" stroke="#161616" stroke-width="0.22">145</text>
<rect x="144.8" y="405.4" width="37.0" height="5.2" fill="#175e83"/>
<text x="135" y="411.0" font-size="8.5" text-anchor="end" font-weight="bold" fill="#161616" textLength="105.16" lengthAdjust="spacingAndGlyphs" stroke="#161616" stroke-width="0.22">Healthcare Representative</text>
<text x="188.6" y="411.3" font-size="8.5" text-anchor="start" font-weight="bold" fill="#161616" textLength="13.97" lengthAdjust="spacingAndGlyphs" stroke="#161616" stroke-width="0.22">131</text>
<rect x="144.8" y="423.4" width="28.8" height="5.2" fill="#175e83"/>
<text x="135" y="429.0" font-size="8.5" text-anchor="end" font-weight="bold" fill="#161616" textLength="34.43" lengthAdjust="spacingAndGlyphs" stroke="#161616" stroke-width="0.22">Manager</text>
<text x="180.4" y="429.3" font-size="8.5" text-anchor="start" font-weight="bold" fill="#161616" textLength="13.97" lengthAdjust="spacingAndGlyphs" stroke="#161616" stroke-width="0.22">102</text>
<rect x="144.8" y="441.3" width="23.4" height="5.2" fill="#175e83"/>
<text x="135" y="446.9" font-size="8.5" text-anchor="end" font-weight="bold" fill="#161616" textLength="84.23" lengthAdjust="spacingAndGlyphs" stroke="#161616" stroke-width="0.22">Sales Representative</text>
<text x="175.0" y="447.2" font-size="8.5" text-anchor="start" font-weight="bold" fill="#161616" textLength="9.31" lengthAdjust="spacingAndGlyphs" stroke="#161616" stroke-width="0.22">83</text>
<rect x="144.8" y="459.2" width="22.5" height="5.2" fill="#175e83"/>
<text x="135" y="464.8" font-size="8.5" text-anchor="end" font-weight="bold" fill="#161616" textLength="72.13" lengthAdjust="spacingAndGlyphs" stroke="#161616" stroke-width="0.22">Research Director</text>
<text x="174.1" y="465.1" font-size="8.5" text-anchor="start" font-weight="bold" fill="#161616" textLength="9.31" lengthAdjust="spacingAndGlyphs" stroke="#161616" stroke-width="0.22">80</text>
<rect x="144.8" y="477.1" width="14.5" height="5.2" fill="#175e83"/>
<text x="135" y="482.7" font-size="8.5" text-anchor="end" font-weight="bold" fill="#161616" textLength="73.51" lengthAdjust="spacingAndGlyphs" stroke="#161616" stroke-width="0.22">Human Resources</text>
<text x="166.1" y="483.0" font-size="8.5" text-anchor="start" font-weight="bold" fill="#161616" textLength="9.31" lengthAdjust="spacingAndGlyphs" stroke="#161616" stroke-width="0.22">52</text>
<text x="144.3" y="504" font-size="8.5" text-anchor="middle" font-weight="bold" fill="#161616" textLength="4.66" lengthAdjust="spacingAndGlyphs" stroke="#161616" stroke-width="0.22">0</text>
<text x="172.8" y="504" font-size="8.5" text-anchor="middle" font-weight="bold" fill="#161616" textLength="13.97" lengthAdjust="spacingAndGlyphs" stroke="#161616" stroke-width="0.22">100</text>
<text x="201.3" y="504" font-size="8.5" text-anchor="middle" font-weight="bold" fill="#161616" textLength="13.97" lengthAdjust="spacingAndGlyphs" stroke="#161616" stroke-width="0.22">200</text>
<text x="229.8" y="504" font-size="8.5" text-anchor="middle" font-weight="bold" fill="#161616" textLength="13.97" lengthAdjust="spacingAndGlyphs" stroke="#161616" stroke-width="0.22">300</text>
<text x="258.3" y="504" font-size="8.5" text-anchor="middle" font-weight="bold" fill="#161616" textLength="13.97" lengthAdjust="spacingAndGlyphs" stroke="#161616" stroke-width="0.22">400</text>
<line x1="377.3" y1="344" x2="377.3" y2="489" stroke="#d3d6dc" stroke-width="1"/>
<rect x="378.1" y="352.7" width="128.8" height="8.4" fill="#175e83"/>
<text x="368" y="359.8" font-size="8.5" text-anchor="end" font-weight="bold" fill="#161616" textLength="53.51" lengthAdjust="spacingAndGlyphs" stroke="#161616" stroke-width="0.22">Life Sciences</text>
<text x="513.2" y="360.1" font-size="8.5" text-anchor="start" font-weight="bold" fill="#161616" textLength="13.97" lengthAdjust="spacingAndGlyphs" stroke="#161616" stroke-width="0.22">606</text>
<rect x="378.1" y="376.6" width="98.5" height="8.4" fill="#175e83"/>
<text x="368" y="383.7" font-size="8.5" text-anchor="end" font-weight="bold" fill="#161616" textLength="30.71" lengthAdjust="spacingAndGlyphs" stroke="#161616" stroke-width="0.22">Medical</text>
<text x="482.9" y="384.0" font-size="8.5" text-anchor="start" font-weight="bold" fill="#161616" textLength="13.97" lengthAdjust="spacingAndGlyphs" stroke="#161616" stroke-width="0.22">464</text>
<rect x="378.1" y="400.6" width="33.3" height="8.4" fill="#175e83"/>
<text x="368" y="407.7" font-size="8.5" text-anchor="end" font-weight="bold" fill="#161616" textLength="39.54" lengthAdjust="spacingAndGlyphs" stroke="#161616" stroke-width="0.22">Marketing</text>
<text x="417.7" y="408.0" font-size="8.5" text-anchor="start" font-weight="bold" fill="#161616" textLength="13.97" lengthAdjust="spacingAndGlyphs" stroke="#161616" stroke-width="0.22">159</text>
<rect x="378.1" y="424.5" width="27.6" height="8.4" fill="#175e83"/>
<text x="368" y="431.6" font-size="8.5" text-anchor="end" font-weight="bold" fill="#161616" textLength="68.71" lengthAdjust="spacingAndGlyphs" stroke="#161616" stroke-width="0.22">Technical Degree</text>
<text x="412.0" y="431.9" font-size="8.5" text-anchor="start" font-weight="bold" fill="#161616" textLength="13.97" lengthAdjust="spacingAndGlyphs" stroke="#161616" stroke-width="0.22">132</text>
<rect x="378.1" y="448.4" width="16.9" height="8.4" fill="#175e83"/>
<text x="368" y="455.5" font-size="8.5" text-anchor="end" font-weight="bold" fill="#161616" textLength="22.33" lengthAdjust="spacingAndGlyphs" stroke="#161616" stroke-width="0.22">Other</text>
<text x="401.3" y="455.8" font-size="8.5" text-anchor="start" font-weight="bold" fill="#161616" textLength="9.31" lengthAdjust="spacingAndGlyphs" stroke="#161616" stroke-width="0.22">82</text>
<rect x="378.1" y="472.4" width="5.2" height="8.4" fill="#175e83"/>
<text x="368" y="479.5" font-size="8.5" text-anchor="end" font-weight="bold" fill="#161616" textLength="73.51" lengthAdjust="spacingAndGlyphs" stroke="#161616" stroke-width="0.22">Human Resources</text>
<text x="389.6" y="479.8" font-size="8.5" text-anchor="start" font-weight="bold" fill="#161616" textLength="9.31" lengthAdjust="spacingAndGlyphs" stroke="#161616" stroke-width="0.22">27</text>
<text x="377.3" y="504" font-size="8.5" text-anchor="middle" font-weight="bold" fill="#161616" textLength="4.66" lengthAdjust="spacingAndGlyphs" stroke="#161616" stroke-width="0.22">0</text>
<text x="420.0" y="504" font-size="8.5" text-anchor="middle" font-weight="bold" fill="#161616" textLength="13.97" lengthAdjust="spacingAndGlyphs" stroke="#161616" stroke-width="0.22">200</text>
<text x="462.7" y="504" font-size="8.5" text-anchor="middle" font-weight="bold" fill="#161616" textLength="13.97" lengthAdjust="spacingAndGlyphs" stroke="#161616" stroke-width="0.22">400</text>
<text x="505.4" y="504" font-size="8.5" text-anchor="middle" font-weight="bold" fill="#161616" textLength="13.97" lengthAdjust="spacingAndGlyphs" stroke="#161616" stroke-width="0.22">600</text>
<text x="548.1" y="504" font-size="8.5" text-anchor="middle" font-weight="bold" fill="#161616" textLength="13.97" lengthAdjust="spacingAndGlyphs" stroke="#161616" stroke-width="0.22">800</text>
<text x="597.2" y="346.8" font-size="8.5" text-anchor="end" font-weight="bold" fill="#161616" textLength="18.62" lengthAdjust="spacingAndGlyphs" stroke="#161616" stroke-width="0.22">1200</text>
<text x="597.2" y="369.15000000000003" font-size="8.5" text-anchor="end" font-weight="bold" fill="#161616" textLength="18.62" lengthAdjust="spacingAndGlyphs" stroke="#161616" stroke-width="0.22">1000</text>
<text x="597.2" y="391.5" font-size="8.5" text-anchor="end" font-weight="bold" fill="#161616" textLength="13.97" lengthAdjust="spacingAndGlyphs" stroke="#161616" stroke-width="0.22">800</text>
<text x="597.2" y="413.85" font-size="8.5" text-anchor="end" font-weight="bold" fill="#161616" textLength="13.97" lengthAdjust="spacingAndGlyphs" stroke="#161616" stroke-width="0.22">600</text>
<text x="597.2" y="436.20000000000005" font-size="8.5" text-anchor="end" font-weight="bold" fill="#161616" textLength="13.97" lengthAdjust="spacingAndGlyphs" stroke="#161616" stroke-width="0.22">400</text>
<text x="597.2" y="458.55" font-size="8.5" text-anchor="end" font-weight="bold" fill="#161616" textLength="13.97" lengthAdjust="spacingAndGlyphs" stroke="#161616" stroke-width="0.22">200</text>
<text x="597.2" y="480.90000000000003" font-size="8.5" text-anchor="end" font-weight="bold" fill="#161616" textLength="4.66" lengthAdjust="spacingAndGlyphs" stroke="#161616" stroke-width="0.22">0</text>
<line x1="606.5" y1="477.7" x2="820" y2="477.7" stroke="#c9ccd3" stroke-width="1"/>
<rect x="631.0" y="371.2" width="22" height="106.0" fill="#175e83" stroke="#103a6a" stroke-width="0.5"/>
<text x="642.0" y="362.5" font-size="8.5" text-anchor="middle" font-weight="bold" fill="#161616" textLength="13.97" lengthAdjust="spacingAndGlyphs" stroke="#161616" stroke-width="0.22">961</text>
<text x="642.0" y="493.5" font-size="8.5" text-anchor="middle" font-weight="bold" fill="#161616" textLength="46.07" lengthAdjust="spacingAndGlyphs" stroke="#161616" stroke-width="0.22">Research &amp;</text>
<text x="642.0" y="505.5" font-size="8.5" text-anchor="middle" font-weight="bold" fill="#161616" textLength="52.57" lengthAdjust="spacingAndGlyphs" stroke="#161616" stroke-width="0.22">Development</text>
<rect x="702.1" y="428.0" width="22" height="49.2" fill="#175e83" stroke="#103a6a" stroke-width="0.5"/>
<text x="713.1" y="421.5" font-size="8.5" text-anchor="middle" font-weight="bold" fill="#161616" textLength="13.97" lengthAdjust="spacingAndGlyphs" stroke="#161616" stroke-width="0.22">446</text>
<text x="713.1" y="493.5" font-size="8.5" text-anchor="middle" font-weight="bold" fill="#161616" textLength="21.88" lengthAdjust="spacingAndGlyphs" stroke="#161616" stroke-width="0.22">Sales</text>
<rect x="773.2" y="470.3" width="22" height="6.9" fill="#175e83" stroke="#103a6a" stroke-width="0.5"/>
<text x="784.2" y="463.8" font-size="8.5" text-anchor="middle" font-weight="bold" fill="#161616" textLength="9.31" lengthAdjust="spacingAndGlyphs" stroke="#161616" stroke-width="0.22">63</text>
<text x="784.2" y="493.5" font-size="8.5" text-anchor="middle" font-weight="bold" fill="#161616" textLength="28.37" lengthAdjust="spacingAndGlyphs" stroke="#161616" stroke-width="0.22">Human</text>
<text x="784.2" y="505.5" font-size="8.5" text-anchor="middle" font-weight="bold" fill="#161616" textLength="42.81" lengthAdjust="spacingAndGlyphs" stroke="#161616" stroke-width="0.22">Resources</text>
<g opacity="0.72">
<circle cx="26.7" cy="497.4" r="24.3" fill="#f6f8f5" fill-opacity="0.8" stroke="#d3dfd6" stroke-width="3.6"/>
<circle cx="26.7" cy="497.4" r="17.6" fill="#f8faf6" fill-opacity="0.6" stroke="#d3e6b8" stroke-width="3.8"/>
<path d="M16,484.5 Q27,478.5 39.5,482 Q42,500 27.5,509.5 Q14.5,501 16,484.5 Z" fill="#c6ddaa"/>
<path d="M16,484.5 Q22,487.5 26,496 Q30,503.5 34.5,504 Q31.5,507.5 27.5,509.5 Q14.5,501 16,484.5 Z" fill="#b1bfca"/>
</g>
</svg>
</div>
</body>
</html>
